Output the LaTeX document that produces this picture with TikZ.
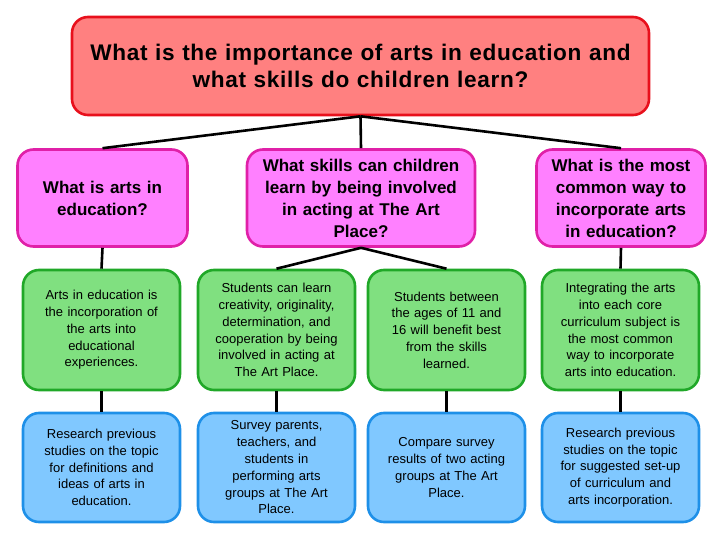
\documentclass[tikz,border=0pt]{standalone}
\usepackage{fontspec}
\setmainfont{Liberation Sans}
\newfontfamily\topfont[LetterSpace=3]{Liberation Sans}
\definecolor{topfill}{HTML}{FF8080}
\definecolor{topline}{HTML}{E8101C}
\definecolor{pinkfill}{HTML}{FF80FF}
\definecolor{pinkline}{HTML}{E020A8}
\definecolor{greenfill}{HTML}{80E080}
\definecolor{greenline}{HTML}{20A828}
\definecolor{bluefill}{HTML}{80C8FF}
\definecolor{blueline}{HTML}{1E90E8}
\begin{document}
\begin{tikzpicture}[x=1pt,y=-1pt,
  box/.style={draw,line width=2.6pt,rounded corners=16pt,align=center,inner sep=0pt},
  topbox/.style={box,fill=topfill,draw=topline,minimum width=577pt,minimum height=98pt,text width=570pt,font=\topfont\bfseries\fontsize{22.6}{27.5}\selectfont},
  qbox/.style={box,fill=pinkfill,draw=pinkline,minimum height=97pt,font=\bfseries\fontsize{17}{22}\selectfont},
  gbox/.style={box,fill=greenfill,draw=greenline,minimum width=157pt,minimum height=120pt,text width=150pt,font=\fontsize{13}{16.8}\selectfont},
  bbox/.style={box,fill=bluefill,draw=blueline,minimum width=157pt,minimum height=109pt,text width=150pt,font=\fontsize{13}{16.8}\selectfont},
  link/.style={line width=2.6pt,black}]
\useasboundingbox (0,0) rectangle (720,540);
\node[topbox] (top) at (360.5,66) {What is the importance of arts in education and\\what skills do children learn?};
\node[qbox,minimum width=170pt,text width=164pt] (q1) at (102.5,198) {What is arts in\\education?};
\node[qbox,minimum width=228pt,text width=222pt] (q2) at (361,198) {What skills can children\\learn by being involved\\in acting at The Art\\Place?};
\node[qbox,minimum width=169pt,text width=164pt] (q3) at (621,198) {What is the most\\common way to\\incorporate arts\\in education?};
\node[gbox] (g1) at (101.5,330) {Arts in education is\\the incorporation of\\the arts into\\educational\\experiences.};
\node[gbox] (g2) at (276.5,330) {Students can learn\\creativity, originality,\\determination, and\\cooperation by being\\involved in acting at\\The Art Place.};
\node[gbox] (g3) at (446.5,330) {Students between\\the ages of 11 and\\16 will benefit best\\from the skills\\learned.};
\node[gbox] (g4) at (620.5,330) {Integrating the arts\\into each core\\curriculum subject is\\the most common\\way to incorporate\\arts into education.};
\node[bbox] (b1) at (101.5,467.5) {Research previous\\studies on the topic\\for definitions and\\ideas of arts in\\education.};
\node[bbox] (b2) at (276.5,467.5) {Survey parents,\\teachers, and\\students in\\performing arts\\groups at The Art\\Place.};
\node[bbox] (b3) at (446.5,467.5) {Compare survey\\results of two acting\\groups at The Art\\Place.};
\node[bbox] (b4) at (620.5,467.5) {Research previous\\studies on the topic\\for suggested set-up\\of curriculum and\\arts incorporation.};
\draw[link] (top.south) -- (q1.north);
\draw[link] (top.south) -- (q2.north);
\draw[link] (top.south) -- (q3.north);
\draw[link] (q1.south) -- (g1.north);
\draw[link] (q2.south) -- (g2.north);
\draw[link] (q2.south) -- (g3.north);
\draw[link] (q3.south) -- (g4.north);
\draw[link] (g1.south) -- (b1.north);
\draw[link] (g2.south) -- (b2.north);
\draw[link] (g3.south) -- (b3.north);
\draw[link] (g4.south) -- (b4.north);
\end{tikzpicture}
\end{document}
